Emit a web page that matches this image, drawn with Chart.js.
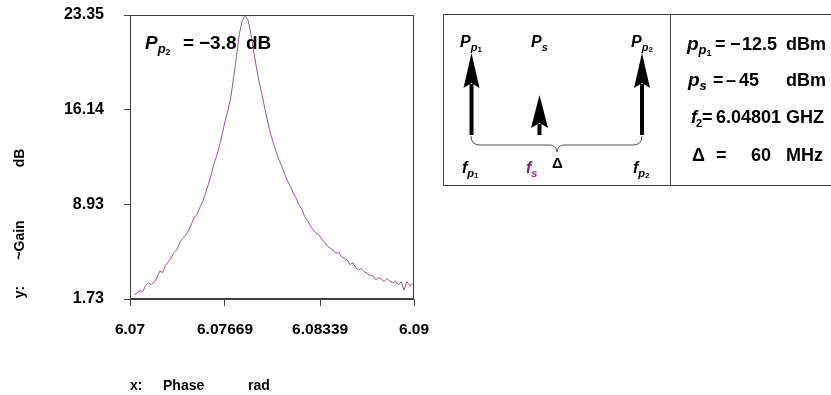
<!DOCTYPE html>
<html>
<head>
<meta charset="utf-8">
<script src="https://cdn.jsdelivr.net/npm/chart.js@4/dist/chart.umd.min.js"></script>
<style>
html,body{margin:0;padding:0;background:#fff;}
canvas{display:block;}
</style>
</head>
<body>
<canvas id="c" width="831" height="395"></canvas>
<script>
// ---- data ----
const phase = [
 6.0703,6.0705,6.0707,6.0709,6.0711,6.0713,6.0715,6.0717,6.0719,6.0721,
 6.0723,6.0725,6.0727,6.0729,6.0731,6.0733,6.0735,6.0737,6.0739,6.0741,
 6.0743,6.0745,6.0747,6.0749,6.0751,6.0753,6.0755,6.0757,6.0759,6.0761,
 6.0763,6.0765,6.0767,6.0769,6.0771,6.0773,6.0775,6.0777,6.0779,6.0781,
 6.0783,6.0785,6.0787,6.0789,6.0791,6.0793,6.0795,6.0797,6.0799,6.0801,
 6.0803,6.0805,6.0807,6.0809,6.0811,6.0813,6.0815,6.0817,6.0819,6.0821,
 6.0823,6.0825,6.0827,6.0829,6.0831,6.0833,6.0835,6.0837,6.0839,6.0841,
 6.0843,6.0845,6.0847,6.0849,6.0851,6.0853,6.0855,6.0857,6.0859,6.0861,
 6.0863,6.0865,6.0867,6.0869,6.0871,6.0873,6.0875,6.0877,6.0879,6.0881,
 6.0883,6.0885,6.0887,6.0889,6.0891,6.0893,6.0895,6.0897,6.0899
];
const gain = [
 2.05,2.2,2.35,2.3,2.75,2.95,2.85,3.0,3.35,3.85,
 3.75,4.3,4.55,4.85,5.25,5.5,6.0,6.35,6.55,6.9,
 7.35,7.9,8.15,8.65,9.1,9.7,10.4,11.1,12.0,12.6,
 13.4,14.3,15.3,16.1,17.1,18.6,20.2,21.9,22.9,23.35,
 23.0,22.0,20.6,19.4,18.2,17.3,16.2,15.2,14.3,13.6,
 12.9,12.3,11.8,11.2,10.7,10.3,9.8,9.4,8.9,8.55,
 8.0,7.7,7.3,7.0,6.75,6.6,6.3,6.05,5.75,5.6,
 5.45,5.2,5.3,4.95,4.85,4.7,4.35,4.5,4.1,3.95,
 4.05,3.8,3.7,3.55,3.5,3.2,3.35,3.25,3.05,3.3,
 3.1,2.95,3.1,2.8,3.05,2.4,3.05,2.75,2.85
];
const yTickValues = [1.73, 8.93, 16.14, 23.35];
const yTickLabels = ['1.73', '8.93', '16.14', '23.35'];
const xTickValues = [6.07, 6.07669, 6.08339, 6.09];
const xTickLabels = ['6.07', '6.07669', '6.08339', '6.09'];
const xRange = [6.07, 6.09];
const yRange = [1.73, 23.35];

const FONT = '"Liberation Sans", Arial, sans-serif';
const AXIS = '#404040';

function subText(ctx, x, y, main, sub, subsub, size, color) {
  ctx.fillStyle = color || '#000';
  ctx.textBaseline = 'alphabetic';
  ctx.textAlign = 'left';
  ctx.font = 'italic bold ' + size + 'px ' + FONT;
  ctx.fillText(main, x, y);
  let w = ctx.measureText(main).width;
  let sx = x + w;
  ctx.font = 'italic bold ' + Math.round(size * 0.66) + 'px ' + FONT;
  ctx.fillText(sub, sx, y + size * 0.22);
  let w2 = ctx.measureText(sub).width;
  if (subsub) {
    ctx.font = 'bold ' + Math.round(size * 0.48) + 'px ' + FONT;
    ctx.fillText(subsub, sx + w2, y + size * 0.3);
    w2 += ctx.measureText(subsub).width;
  }
  return sx + w2;
}

function words(ctx, font, y, items) {
  ctx.font = font;
  ctx.fillStyle = '#000';
  ctx.textAlign = 'left';
  ctx.textBaseline = 'alphabetic';
  items.forEach(([t, x]) => ctx.fillText(t, x, y));
}

function arrow(ctx, x, tipY, baseY, headLen, headW, shaftW) {
  ctx.fillStyle = '#000';
  ctx.fillRect(x - shaftW / 2, tipY + headLen - 4, shaftW, baseY - (tipY + headLen - 4));
  ctx.beginPath();
  ctx.moveTo(x, tipY);
  ctx.lineTo(x + headW / 2, tipY + headLen);
  ctx.lineTo(x, tipY + headLen - 5);
  ctx.lineTo(x - headW / 2, tipY + headLen);
  ctx.closePath();
  ctx.fill();
}

const decor = {
  id: 'decor',
  afterDraw(chart) {
    const ctx = chart.ctx;
    const a = chart.chartArea;
    ctx.save();
    // plot frame
    ctx.strokeStyle = AXIS;
    ctx.lineWidth = 1;
    ctx.strokeRect(Math.round(a.left) + 0.5, Math.round(a.top) + 0.5,
                   Math.round(a.right - a.left) - 1, Math.round(a.bottom - a.top) - 1);

    // annotation
    subText(ctx, 145, 49, 'P', 'p', '2', 19, '#000');
    words(ctx, 'bold 19px ' + FONT, 49, [['=', 183], ['\u22123.8', 199], ['dB', 246]]);

    // axis titles
    ctx.font = 'bold 14px ' + FONT;
    ctx.fillStyle = '#000';
    ctx.textBaseline = 'middle';
    ctx.textAlign = 'left';
    ctx.fillText('x:', 130, 386);
    ctx.fillText('Phase', 163, 386);
    ctx.fillText('rad', 248, 386);

    ctx.save();
    ctx.translate(20, 0);
    ctx.rotate(-Math.PI / 2);
    ctx.textAlign = 'center';
    ctx.fillText('y:', -292, 0);
    ctx.fillText('~Gain', -240, 0);
    ctx.fillText('dB', -158, 0);
    ctx.restore();

    // diagram frame
    ctx.strokeStyle = AXIS;
    ctx.lineWidth = 1;
    ctx.beginPath();
    ctx.moveTo(443.5, 14.5); ctx.lineTo(831, 14.5);
    ctx.moveTo(443.5, 14.5); ctx.lineTo(443.5, 185.5);
    ctx.moveTo(443.5, 185.5); ctx.lineTo(831, 185.5);
    ctx.moveTo(670.5, 14.5); ctx.lineTo(670.5, 185.5);
    ctx.stroke();

    // arrows
    arrow(ctx, 471.5, 53, 135, 35, 16, 4);
    arrow(ctx, 539.5, 95, 135, 33, 17, 4);
    arrow(ctx, 642, 53, 135, 35, 16, 4);

    // brace
    ctx.strokeStyle = '#555';
    ctx.lineWidth = 1;
    ctx.beginPath();
    ctx.moveTo(471, 136);
    ctx.quadraticCurveTo(471, 145, 480, 145);
    ctx.lineTo(550, 145);
    ctx.quadraticCurveTo(556, 145, 557, 152);
    ctx.quadraticCurveTo(558, 145, 564, 145);
    ctx.lineTo(633, 145);
    ctx.quadraticCurveTo(642, 145, 642, 136);
    ctx.stroke();

    // diagram labels
    subText(ctx, 460, 47, 'P', 'p', '1', 16, '#000');
    subText(ctx, 531, 47, 'P', 's', null, 16, '#000');
    subText(ctx, 631, 47, 'P', 'p', '2', 16, '#000');
    subText(ctx, 462, 173, 'f', 'p', '1', 16, '#000');
    subText(ctx, 526, 173, 'f', 's', null, 16, '#8b1a89');
    subText(ctx, 633, 173, 'f', 'p', '2', 16, '#000');
    words(ctx, 'bold 15px ' + FONT, 168, [['\u0394', 552]]);

    // parameter list
    const F = 'bold 18px ' + FONT;
    subText(ctx, 687, 50, 'p', 'p', '1', 19, '#000');
    words(ctx, F, 50, [['=', 715], ['\u2212', 730], ['12.5', 742], ['dBm', 786]]);

    subText(ctx, 688, 86, 'p', 's', null, 19, '#000');
    words(ctx, F, 86, [['=', 713], ['\u2013', 726], ['45', 739], ['dBm', 786]]);

    ctx.font = 'italic bold 18px ' + FONT;
    ctx.fillText('f', 691, 123);
    ctx.font = 'bold 11px ' + FONT;
    ctx.fillText('2', 696, 127);
    words(ctx, F, 123, [['=', 702], ['6.04801', 716], ['GHZ', 786]]);

    words(ctx, F, 161, [['\u0394', 692], ['=', 716], ['60', 751], ['MHz', 786]]);
    ctx.restore();
  }
};

new Chart(document.getElementById('c'), {
  type: 'scatter',
  data: {
    datasets: [{
      data: phase.map((p, i) => ({ x: p, y: gain[i] })),
      showLine: true,
      borderColor: '#9c52a3',
      borderWidth: 1,
      pointRadius: 0,
      tension: 0,
      fill: false
    }]
  },
  options: {
    responsive: false,
    animation: false,
    devicePixelRatio: 1,
    layout: { padding: { left: 0, top: 15, right: 417, bottom: 0 } },
    plugins: { legend: { display: false }, tooltip: { enabled: false } },
    scales: {
      x: {
        type: 'linear',
        min: xRange[0], max: xRange[1],
        afterBuildTicks: s => { s.ticks = xTickValues.map(v => ({ value: v })); },
        afterFit: s => { s.height = 96; s.paddingLeft = 0; s.paddingRight = 0; },
        ticks: {
          callback: (v, i) => xTickLabels[i],
          color: '#000',
          font: { family: FONT, size: 15.5, weight: 'bold' },
          padding: 14,
          maxRotation: 0,
          autoSkip: false
        },
        grid: { drawOnChartArea: false, drawTicks: true, tickLength: 7, color: AXIS },
        border: { display: true, color: AXIS }
      },
      y: {
        type: 'linear',
        min: yRange[0], max: yRange[1],
        afterBuildTicks: s => { s.ticks = yTickValues.map(v => ({ value: v })); },
        afterFit: s => { s.width = 130; s.paddingTop = 0; s.paddingBottom = 0; },
        ticks: {
          callback: (v, i) => yTickLabels[i],
          color: '#000',
          font: { family: FONT, size: 16, weight: 'bold' },
          padding: 20,
          autoSkip: false
        },
        grid: { drawOnChartArea: false, drawTicks: true, tickLength: 6, color: AXIS },
        border: { display: true, color: AXIS }
      }
    }
  },
  plugins: [decor]
});
</script>
</body>
</html>
